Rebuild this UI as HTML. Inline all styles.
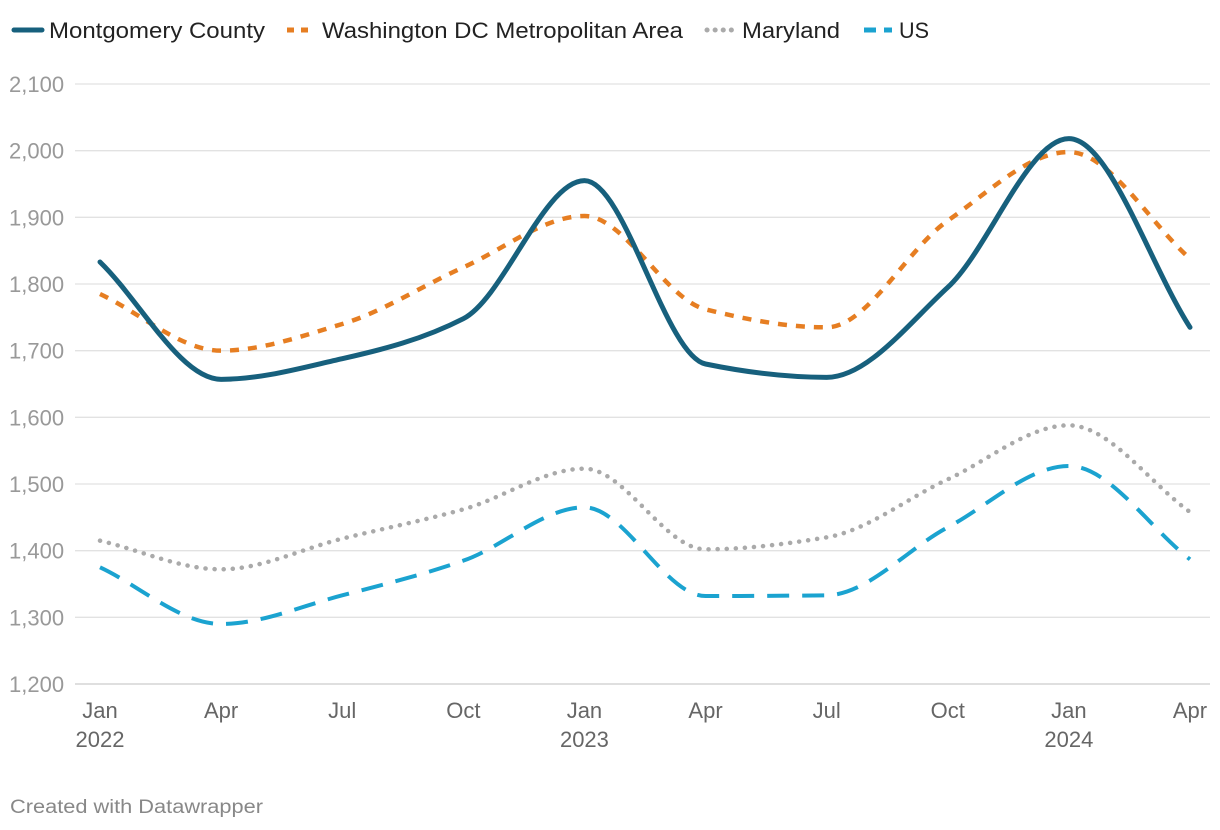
<!DOCTYPE html>
<html><head><meta charset="utf-8"><style>
body{margin:0;background:#fff;font-family:"Liberation Sans",Arial,sans-serif;}
svg{display:block}
</style></head><body>
<svg id="chart" width="1220" height="830" viewBox="0 0 1220 830" xmlns="http://www.w3.org/2000/svg"></svg>
<script>
const categories=["Jan 2022","Apr 2022","Jul 2022","Oct 2022","Jan 2023","Apr 2023","Jul 2023","Oct 2023","Jan 2024","Apr 2024"];
const montgomery=[1833,1657,1688,1748,1955,1680,1660,1795,2018,1735];
const dcMetro=[1785,1700,1740,1825,1902,1762,1735,1895,1998,1838];
const maryland=[1415,1372,1418,1462,1523,1402,1420,1507,1588,1458];
const us=[1375,1290,1333,1385,1465,1332,1333,1435,1527,1387];
const yTicks=[1200,1300,1400,1500,1600,1700,1800,1900,2000,2100];
const xTickLabels=["Jan","Apr","Jul","Oct","Jan","Apr","Jul","Oct","Jan","Apr"];
const xYearLabels=["2022","","","","2023","","","","2024",""];

const svg=document.getElementById('chart');
const NS="http://www.w3.org/2000/svg";
const x0=100,x1=1190,yTop=84,yBot=684;
const xs=i=>x0+(x1-x0)*i/(categories.length-1);
const ys=v=>yBot-(v-1200)/(2100-1200)*(yBot-yTop);
function mk(tag,attrs,parent){const e=document.createElementNS(NS,tag);for(const k in attrs)e.setAttribute(k,attrs[k]);(parent||svg).appendChild(e);return e;}

yTicks.forEach(t=>{
  const l=mk('line',{x1:75,x2:1210,y1:ys(t),y2:ys(t),stroke:t===1200?'#ccc':'#e2e2e2','stroke-width':1.3});
  
  
  const tx=mk('text',{x:9,y:ys(t)+8,fill:'#999','font-size':22});
  tx.textContent=t.toLocaleString('en-US');
  
  
});
xTickLabels.forEach((lab,i)=>{
  const t=mk('text',{x:xs(i),y:718,fill:'#666','font-size':22,'text-anchor':'middle'});
  t.textContent=lab;
  
  
  if(xYearLabels[i]){const y=mk('text',{x:xs(i),y:747,fill:'#666','font-size':22,'text-anchor':'middle'});y.textContent=xYearLabels[i];
  
  }
});

function monotonePath(pts){
  const n=pts.length,dx=[],m=[],t=[];
  for(let i=0;i<n-1;i++){dx.push(pts[i+1][0]-pts[i][0]);m.push((pts[i+1][1]-pts[i][1])/dx[i]);}
  t[0]=m[0];t[n-1]=m[n-2];
  for(let i=1;i<n-1;i++){t[i]=(m[i-1]*m[i]<=0)?0:(3*(dx[i-1]+dx[i]))/((2*dx[i]+dx[i-1])/m[i-1]+(dx[i]+2*dx[i-1])/m[i]);}
  let d=`M${pts[0][0]},${pts[0][1]}`;
  for(let i=0;i<n-1;i++){const h=dx[i]/3;d+=`C${pts[i][0]+h},${pts[i][1]+t[i]*h} ${pts[i+1][0]-h},${pts[i+1][1]-t[i+1]*h} ${pts[i+1][0]},${pts[i+1][1]}`;}
  return d;
}
const series=[
 {name:'us',vals:us,color:'#1ba3d0',w:4,dash:'22 13',cap:'butt'},
 {name:'maryland',vals:maryland,color:'#aaaaaa',w:4.5,dash:'0.1 9',cap:'round'},
 {name:'dc-metro',vals:dcMetro,color:'#e67e22',w:4.5,dash:'9 9',cap:'butt'},
 {name:'montgomery',vals:montgomery,color:'#17607d',w:5,dash:'none',cap:'round'}
];
series.forEach(s=>{
  const p=mk('path',{d:monotonePath(s.vals.map((v,i)=>[xs(i),ys(v)])),fill:'none',stroke:s.color,'stroke-width':s.w,'stroke-dasharray':s.dash,'stroke-linecap':s.cap,'stroke-linejoin':'round'});
  
  
});

const legend=[["Montgomery County",'#17607d','none','round',12,216],["Washington DC Metropolitan Area",'#e67e22','7 7','butt',285,361],["Maryland",'#aaaaaa','0.1 8','round',705,98],["US",'#1ba3d0','12 8','butt',862,30]];
legend.forEach(([n,c,d,cap,x,w])=>{
  const g=mk('g',{});
  
  
  mk('line',{x1:x+2,x2:x+30,y1:30,y2:30,stroke:c,'stroke-width':5,'stroke-dasharray':d,'stroke-linecap':cap},g);
  const t=mk('text',{x:x+37,y:38,fill:'#222','font-size':22,textLength:w,lengthAdjust:'spacingAndGlyphs'},g);t.textContent=n;
});
const cr=mk('text',{x:10,y:813,fill:'#888','font-size':19,textLength:253,lengthAdjust:'spacingAndGlyphs'});
cr.textContent='Created with Datawrapper';


</script>
</body></html>
